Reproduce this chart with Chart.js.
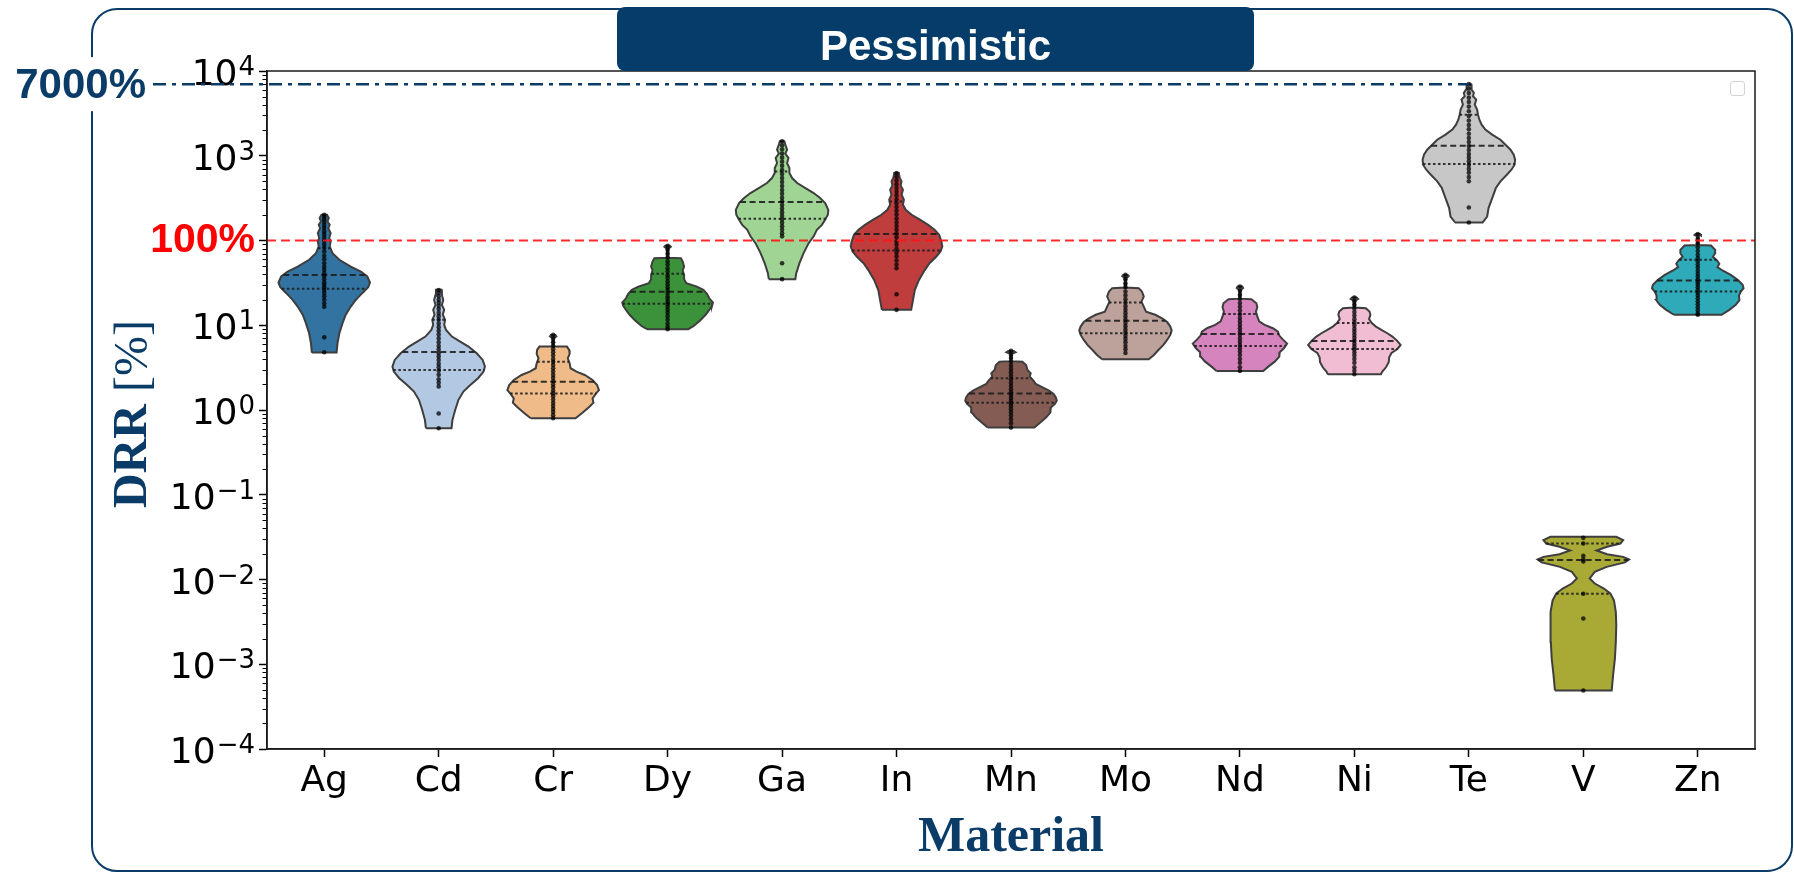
<!DOCTYPE html>
<html>
<head>
<meta charset="utf-8">
<title>Pessimistic DRR by material</title>
<script src="https://cdn.jsdelivr.net/npm/chart.js"></script>
<style>
  html, body { margin: 0; padding: 0; background: #ffffff; }
  #wrap { position: relative; width: 1794px; height: 874px; overflow: hidden; background: #ffffff; }
  #frame {
    position: absolute; left: 91px; top: 8px; width: 1702px; height: 864px;
    box-sizing: border-box; border: 2.5px solid #0b3c68; border-radius: 26px; z-index: 1;
  }
  #banner {
    position: absolute; left: 617px; top: 7px; width: 637px; height: 64px;
    background: #053c6a; border-radius: 8px; z-index: 3;
    color: #ffffff; font: bold 42px "Liberation Sans", Arial, sans-serif;
    text-align: center; line-height: 78px; overflow: visible;
  }
  #legendBox {
    position: absolute; left: 1730px; top: 81px; width: 15px; height: 15px;
    box-sizing: border-box; border: 1.5px solid #d4d4d4; border-radius: 3px; z-index: 3;
  }
  #chart { position: absolute; left: 0; top: 0; z-index: 2; }
</style>
</head>
<body>
<div id="wrap">
  <div id="frame"></div>
  <div id="banner">Pessimistic</div>
  <div id="legendBox"></div>
  <canvas id="chart" width="1794" height="874"></canvas>
</div>
<script>
// ---- categories and colours ----
const materials = ['Ag', 'Cd', 'Cr', 'Dy', 'Ga', 'In', 'Mn', 'Mo', 'Nd', 'Ni', 'Te', 'V', 'Zn'];
const fillColors = [
  'rgb(50,115,161)', 'rgb(179,200,227)', 'rgb(238,187,137)', 'rgb(59,146,59)',
  'rgb(159,212,148)', 'rgb(192,61,62)', 'rgb(132,92,83)', 'rgb(189,161,155)',
  'rgb(213,132,189)', 'rgb(240,189,211)', 'rgb(199,199,199)', 'rgb(169,170,54)',
  'rgb(46,170,184)'
];

// ---- violin profiles: DRR levels (%) from bottom to top, and kernel density
//      at each level relative to the widest violin ----
const agLevels  = [4.76, 6.13, 8.05, 10.6, 13.3, 16.6, 19.9, 23.9, 28.1, 31.9, 37.6, 43.1, 49.3, 59.2, 70.9, 85, 97.4, 107, 122, 140, 153, 168, 184, 201];
const agDensity = [0.27, 0.29, 0.33, 0.40, 0.47, 0.58, 0.69, 0.83, 0.96, 1.00, 0.94, 0.80, 0.58, 0.33, 0.18, 0.12, 0.14, 0.11, 0.14, 0.09, 0.12, 0.07, 0.10, 0.06];

const cdLevels  = [0.61, 0.76, 1.00, 1.31, 1.65, 1.97, 2.37, 2.84, 3.25, 3.90, 4.67, 5.60, 6.42, 7.35, 8.81, 10.1, 11.6, 13.3, 15.2, 17.4, 19.9, 22.8, 26.2];
const cdDensity = [0.28, 0.30, 0.36, 0.43, 0.54, 0.69, 0.86, 0.98, 1.01, 0.96, 0.83, 0.65, 0.47, 0.29, 0.16, 0.12, 0.14, 0.09, 0.12, 0.07, 0.10, 0.07, 0.06];

const crLevels  = [0.80, 0.93, 1.08, 1.22, 1.37, 1.55, 1.72, 1.97, 2.26, 2.59, 2.84, 3.11, 3.56, 4.08, 4.59, 5.11, 5.60, 5.66, 7.1, 7.4, 7.69];
const crDensity = [0.49, 0.64, 0.78, 0.88, 0.86, 0.93, 1.00, 0.96, 0.86, 0.69, 0.51, 0.38, 0.36, 0.32, 0.36, 0.35, 0.30, 0.015, 0.015, 0.07, 0.05];

const dyLevels  = [8.98, 9.8, 11.4, 13.3, 15.2, 16.9, 18.5, 20.8, 23.5, 26.2, 28.6, 31.4, 35.0, 39.3, 44.3, 49.3, 56.5, 61.9, 62.6, 80, 84, 86.6];
const dyDensity = [0.45, 0.57, 0.71, 0.83, 0.91, 0.97, 0.99, 0.91, 0.86, 0.78, 0.64, 0.41, 0.36, 0.36, 0.33, 0.36, 0.33, 0.29, 0.015, 0.015, 0.07, 0.05];

const gaLevels  = [35.0, 41.2, 54.0, 70.9, 93, 112, 134, 153, 176, 201, 230, 276, 317, 363, 416, 476, 546, 625, 716, 820, 940, 1057, 1179, 1351, 1479];
const gaDensity = [0.29, 0.31, 0.38, 0.47, 0.58, 0.69, 0.76, 0.87, 0.94, 1.00, 1.01, 0.94, 0.83, 0.69, 0.51, 0.33, 0.22, 0.16, 0.16, 0.11, 0.14, 0.07, 0.11, 0.07, 0.05];

const inLevels  = [15.2, 19.9, 26.2, 34.3, 45.1, 54.0, 64.8, 74.2, 85.0, 97.4, 117, 134, 153, 176, 201, 230, 264, 303, 347, 397, 447, 498, 546, 625];
const inDensity = [0.32, 0.36, 0.40, 0.49, 0.62, 0.72, 0.87, 0.96, 1.00, 0.98, 0.93, 0.83, 0.69, 0.51, 0.33, 0.20, 0.14, 0.16, 0.11, 0.14, 0.09, 0.11, 0.07, 0.05];

const mnLevels  = [0.62, 0.71, 0.82, 0.94, 1.07, 1.18, 1.29, 1.41, 1.55, 1.69, 1.85, 2.03, 2.22, 2.48, 2.71, 2.97, 3.40, 3.72, 3.77, 4.6, 4.8, 4.98];
const mnDensity = [0.51, 0.64, 0.77, 0.86, 0.87, 0.96, 1.00, 0.98, 0.93, 0.83, 0.69, 0.54, 0.49, 0.41, 0.43, 0.36, 0.33, 0.25, 0.015, 0.015, 0.10, 0.06];

const moLevels  = [3.97, 4.46, 5.11, 5.86, 6.71, 7.69, 8.65, 9.65, 10.9, 12.1, 13.3, 14.5, 16.6, 19.0, 21.8, 25.0, 27.4, 27.8, 36, 38, 39.3];
const moDensity = [0.51, 0.62, 0.72, 0.83, 0.91, 0.98, 1.01, 0.98, 0.91, 0.80, 0.65, 0.45, 0.40, 0.35, 0.40, 0.36, 0.29, 0.015, 0.015, 0.07, 0.05];

const ndLevels  = [2.89, 3.25, 3.72, 4.27, 4.80, 5.35, 6.08, 6.77, 7.55, 8.42, 9.22, 10.1, 11.1, 12.7, 14.5, 16.3, 18.2, 20.3, 20.6, 26, 27.5, 28.6];
const ndDensity = [0.51, 0.62, 0.76, 0.86, 0.87, 0.96, 1.03, 0.94, 0.86, 0.83, 0.72, 0.54, 0.42, 0.38, 0.35, 0.38, 0.36, 0.25, 0.015, 0.015, 0.07, 0.05];

const niLevels  = [2.64, 2.84, 3.19, 3.66, 4.19, 4.71, 5.25, 5.86, 6.59, 7.35, 8.05, 8.81, 9.65, 10.6, 11.8, 13.3, 14.5, 15.9, 16.2, 19.5, 20.4, 21.2];
const niDensity = [0.58, 0.61, 0.69, 0.75, 0.76, 0.81, 0.94, 1.01, 0.93, 0.83, 0.72, 0.59, 0.47, 0.38, 0.32, 0.35, 0.33, 0.25, 0.015, 0.015, 0.08, 0.05];

const teLevels  = [163, 192, 241, 317, 416, 498, 597, 684, 784, 898, 1029, 1179, 1351, 1547, 1774, 2032, 2327, 2667, 3055, 3499, 4010, 4594, 5029, 5508, 6030, 7000];
const teDensity = [0.30, 0.40, 0.43, 0.51, 0.59, 0.69, 0.83, 0.93, 1.00, 1.01, 0.98, 0.91, 0.80, 0.69, 0.51, 0.36, 0.28, 0.23, 0.20, 0.18, 0.13, 0.16, 0.09, 0.11, 0.06, 0.05];

const vLevels   = [0.00049, 0.00074, 0.00116, 0.00183, 0.00288, 0.00415, 0.00569, 0.00683, 0.00782, 0.00896, 0.0103, 0.0123, 0.0141, 0.0159, 0.0172, 0.0185, 0.0199, 0.0220, 0.0243, 0.0266, 0.0291, 0.0319];
const vDensity  = [0.62, 0.65, 0.69, 0.71, 0.72, 0.71, 0.67, 0.59, 0.45, 0.25, 0.14, 0.25, 0.51, 0.91, 1.00, 0.87, 0.52, 0.29, 0.52, 0.81, 0.87, 0.72];

const znLevels  = [13.3, 15.2, 17.4, 19.8, 22.4, 25.0, 27.4, 30.0, 34.3, 39.3, 44.3, 48.5, 53.1, 58.1, 64.2, 70.9, 77.7, 87.4, 88.6, 112, 116, 119];
const znDensity = [0.52, 0.69, 0.83, 0.91, 0.90, 0.94, 1.00, 0.98, 0.87, 0.72, 0.54, 0.43, 0.47, 0.42, 0.33, 0.38, 0.38, 0.29, 0.015, 0.015, 0.07, 0.05];

// ---- individual scenario results (DRR %) ----
const agPoints = [201, 190, 178, 165, 152, 140, 128, 118, 108, 99, 90, 82, 74, 66, 60, 54, 49, 45, 41, 38, 35, 32, 30, 28, 26, 24, 22, 20, 18, 16.5, 7.2, 4.8];
const cdPoints = [26, 24, 22, 20, 18.5, 17, 15.5, 14, 12.8, 11.6, 10.5, 9.5, 8.6, 7.8, 7, 6.3, 5.7, 5.2, 4.7, 4.3, 3.9, 3.5, 3.2, 2.9, 2.6, 2.3, 2.1, 1.9, 0.91, 0.61];
const crPoints = [7.7, 7.0, 6.3, 5.7, 5.2, 4.8, 4.4, 4.0, 3.7, 3.4, 3.1, 2.85, 2.6, 2.4, 2.2, 2.0, 1.85, 1.7, 1.57, 1.45, 1.33, 1.22, 1.12, 1.03, 0.95, 0.87, 0.8];
const dyPoints = [86.6, 78, 70, 63, 57, 52, 47, 43, 39, 36, 33, 30.5, 28, 26, 24, 22, 20.5, 19, 17.8, 16.5, 15.2, 14, 12.8, 11.6, 10.5, 9.6, 9.0];
const gaPoints = [1479, 1330, 1190, 1060, 950, 850, 760, 680, 610, 545, 490, 440, 395, 355, 320, 290, 262, 238, 216, 196, 178, 162, 147, 134, 122, 112, 54, 35];
const inPoints = [625, 565, 510, 460, 415, 375, 338, 305, 275, 248, 224, 202, 182, 164, 148, 134, 121, 109, 98, 89, 80, 72, 65, 58, 52, 47, 23.2, 15.2];
const mnPoints = [4.98, 4.5, 4.1, 3.7, 3.35, 3.05, 2.78, 2.53, 2.3, 2.1, 1.92, 1.76, 1.62, 1.5, 1.39, 1.29, 1.2, 1.11, 1.02, 0.94, 0.86, 0.78, 0.7, 0.62];
const moPoints = [39.3, 35, 31, 28, 25, 22.5, 20.3, 18.4, 16.7, 15.2, 13.9, 12.7, 11.6, 10.6, 9.7, 8.9, 8.2, 7.5, 6.9, 6.3, 5.7, 5.2, 4.7];
const ndPoints = [28.6, 25.5, 22.8, 20.4, 18.3, 16.5, 14.9, 13.5, 12.2, 11.1, 10.1, 9.2, 8.4, 7.7, 7.0, 6.4, 5.85, 5.35, 4.9, 4.45, 4.0, 3.6, 3.2, 2.89];
const niPoints = [21.2, 19.2, 17.4, 15.8, 14.3, 13.0, 11.8, 10.8, 9.9, 9.1, 8.4, 7.7, 7.1, 6.55, 6.05, 5.6, 5.2, 4.8, 4.4, 4.0, 3.6, 3.2, 2.9, 2.64];
const tePoints = [7000, 6200, 5500, 4850, 4300, 3800, 3350, 2950, 2600, 2300, 2050, 1820, 1620, 1450, 1300, 1170, 1050, 950, 860, 780, 700, 630, 560, 500, 245, 163];
const vPoints  = [0.031, 0.0266, 0.019, 0.0172, 0.0163, 0.0068, 0.00346, 0.00049];
const znPoints = [119, 105, 93, 83, 75, 68, 62, 57, 52, 48, 44, 40.5, 37.5, 34.7, 32.2, 30, 28, 26, 24.2, 22.5, 20.8, 19.2, 17.7, 16.3, 15, 13.8, 13.3];

// ---- quartiles per material (DRR %) ----
const lowerQuartile = [26.9, 2.97, 1.57, 17.9, 180, 76.2, 1.22, 8.05, 5.70, 5.25, 798, 0.0068, 25.0];
const medianValue   = [39.3, 4.84, 2.16, 24.8, 284, 119, 1.57, 11.3, 7.90, 6.53, 1314, 0.0170, 33.7];
const upperQuartile = [81, 11.6, 3.72, 40.4, 654, 289, 2.37, 18.5, 13.6, 10.6, 3055, 0.0266, 59.2];

// ---- axis ticks and reference levels ----
const yTickValues = [1e-4, 1e-3, 1e-2, 1e-1, 1, 10, 100, 1000, 10000];
const thresholdValue = 100;   // DRR = 100 %
const worstCaseValue = 7000;  // highest DRR reached (Te)
const worstCaseIndex = 10;    // Te

// ---------------------------------------------------------------
const levelSets   = [agLevels, cdLevels, crLevels, dyLevels, gaLevels, inLevels, mnLevels, moLevels, ndLevels, niLevels, teLevels, vLevels, znLevels];
const densitySets = [agDensity, cdDensity, crDensity, dyDensity, gaDensity, inDensity, mnDensity, moDensity, ndDensity, niDensity, teDensity, vDensity, znDensity];
const pointSets   = [agPoints, cdPoints, crPoints, dyPoints, gaPoints, inPoints, mnPoints, moPoints, ndPoints, niPoints, tePoints, vPoints, znPoints];

const HALF_WIDTH = 0.4;   // half width of a density of 1, in category units
const NAVY = '#0b3c68';
const TICK_FONT = '"DejaVu Sans", sans-serif';

// closed outline of one violin: up the left side, down the right side
function violinOutline(i) {
  const lv = levelSets[i], d = densitySets[i];
  const pts = [];
  for (let k = 0; k < lv.length; k++) pts.push({ x: i - d[k] * HALF_WIDTH, y: lv[k] });
  for (let k = lv.length - 1; k >= 0; k--) pts.push({ x: i + d[k] * HALF_WIDTH, y: lv[k] });
  pts.push({ x: pts[0].x, y: pts[0].y });
  return pts;
}

// density of violin i at value v (profile is linear in log space)
function densityAt(i, v) {
  const lv = levelSets[i], d = densitySets[i];
  const t = Math.log10(v);
  for (let k = 0; k < lv.length - 1; k++) {
    const a = Math.log10(lv[k]), b = Math.log10(lv[k + 1]);
    if (t >= a && t <= b) return d[k] + (d[k + 1] - d[k]) * (t - a) / (b - a);
  }
  return 0;
}

function quartileLine(i, v, dash, label) {
  const w = densityAt(i, v) * HALF_WIDTH;
  return {
    type: 'line',
    label: label + ' ' + materials[i],
    data: [{ x: i - w, y: v }, { x: i + w, y: v }],
    borderColor: 'rgba(30,30,30,0.9)',
    borderWidth: 2,
    borderDash: dash,
    pointRadius: 0,
    fill: false,
    order: 2
  };
}

const datasets = [];

// scenario points on top
const allPoints = [];
pointSets.forEach((arr, i) => arr.forEach(v => allPoints.push({ x: i, y: v })));
datasets.push({
  type: 'scatter',
  label: 'scenarios',
  data: allPoints,
  pointRadius: 2.3,
  pointBackgroundColor: 'rgba(0,0,0,0.75)',
  pointBorderWidth: 0,
  order: 1
});

// quartile lines
materials.forEach((m, i) => {
  datasets.push(quartileLine(i, lowerQuartile[i], [2.5, 2.5], 'Q1'));
  datasets.push(quartileLine(i, medianValue[i], [6, 3.5], 'median'));
  datasets.push(quartileLine(i, upperQuartile[i], [2.5, 2.5], 'Q3'));
});

// violin bodies
materials.forEach((m, i) => {
  datasets.push({
    type: 'line',
    label: m,
    data: violinOutline(i),
    backgroundColor: fillColors[i],
    borderColor: 'rgb(62,62,62)',
    borderWidth: 2,
    fill: 'shape',
    tension: 0,
    pointRadius: 0,
    order: 3
  });
});

// minor log ticks, power-of-ten labels, frame, reference lines and axis titles
const decorations = {
  id: 'decorations',
  afterDatasetsDraw(chart) {
    const { ctx, chartArea: a, scales } = chart;
    const y = scales.y.getPixelForValue(thresholdValue);
    ctx.save();
    ctx.strokeStyle = 'rgba(255,20,20,0.9)';
    ctx.lineWidth = 2;
    ctx.setLineDash([9, 5]);
    ctx.beginPath();
    ctx.moveTo(a.left, y);
    ctx.lineTo(a.right, y);
    ctx.stroke();
    ctx.restore();
  },
  afterDraw(chart) {
    const { ctx, chartArea: a, scales } = chart;
    const ys = scales.y, xs = scales.x;
    ctx.save();

    // minor ticks on the log axis
    ctx.strokeStyle = '#000';
    ctx.lineWidth = 1;
    for (let e = -4; e < 4; e++) {
      for (let k = 2; k < 10; k++) {
        const py = Math.round(ys.getPixelForValue(k * Math.pow(10, e))) + 0.5;
        ctx.beginPath();
        ctx.moveTo(a.left - 4.5, py);
        ctx.lineTo(a.left, py);
        ctx.stroke();
      }
    }

    // power-of-ten labels with a raised exponent
    ctx.fillStyle = '#000';
    ctx.textBaseline = 'alphabetic';
    yTickValues.forEach(v => {
      if (v === thresholdValue) return;
      const py = ys.getPixelForValue(v);
      const exp = Math.round(Math.log10(v));
      const expText = exp < 0 ? '\u2212' + (-exp) : String(exp);
      const right = a.left - 12;
      ctx.font = '26px ' + TICK_FONT;
      const we = ctx.measureText(expText).width;
      ctx.textAlign = 'right';
      ctx.fillText(expText, right, py + 4);
      ctx.font = '36px ' + TICK_FONT;
      ctx.fillText('10', right - we - 1, py + 14);
    });

    // frame
    ctx.lineWidth = 1.5;
    ctx.strokeStyle = '#1a1a1a';
    ctx.strokeRect(a.left, a.top, a.right - a.left, a.bottom - a.top);

    // worst-case level
    const yw = ys.getPixelForValue(worstCaseValue);
    ctx.fillStyle = '#ffffff';
    ctx.fillRect(8, yw - 27, 140, 54);
    ctx.strokeStyle = NAVY;
    ctx.lineWidth = 2.5;
    ctx.setLineDash([13, 6, 4, 6]);
    ctx.beginPath();
    ctx.moveTo(153, yw);
    ctx.lineTo(xs.getPixelForValue(worstCaseIndex), yw);
    ctx.stroke();
    ctx.setLineDash([]);
    ctx.fillStyle = NAVY;
    ctx.font = 'bold 42px "Liberation Sans", Arial, sans-serif';
    ctx.textAlign = 'right';
    ctx.textBaseline = 'middle';
    ctx.fillText(worstCaseValue + '%', 146, yw + 2);

    // y title: "DRR [%]"
    const cy = (a.top + a.bottom) / 2 + 4;
    ctx.translate(134, cy);
    ctx.rotate(-Math.PI / 2);
    ctx.textAlign = 'left';
    ctx.textBaseline = 'middle';
    const boldFont = 'bold 48px "Liberation Serif", "Times New Roman", serif';
    const normFont = '48px "Liberation Serif", "Times New Roman", serif';
    ctx.font = boldFont;
    const w1 = ctx.measureText('DRR').width;
    ctx.font = normFont;
    const w2 = ctx.measureText(' [%]').width;
    const x0 = -(w1 + w2) / 2;
    ctx.font = boldFont;
    ctx.fillText('DRR', x0, 0);
    ctx.font = normFont;
    ctx.fillText(' [%]', x0 + w1, 0);
    ctx.setTransform(1, 0, 0, 1, 0, 0);

    // x title
    ctx.font = 'bold 50px "Liberation Serif", "Times New Roman", serif';
    ctx.textAlign = 'center';
    ctx.textBaseline = 'alphabetic';
    ctx.fillText('Material', (a.left + a.right) / 2, 851);
    ctx.restore();
  }
};

new Chart(document.getElementById('chart'), {
  type: 'line',
  data: { datasets },
  options: {
    responsive: false,
    animation: false,
    events: [],
    layout: { padding: { left: 0, right: 39, top: 71, bottom: 0 } },
    plugins: {
      legend: { display: false },
      tooltip: { enabled: false },
      title: { display: false }
    },
    scales: {
      x: {
        type: 'linear',
        min: -0.5,
        max: 12.5,
        afterBuildTicks: s => { s.ticks = materials.map((m, i) => ({ value: i })); },
        afterFit: s => { s.height = 125; },
        ticks: {
          autoSkip: false,
          maxRotation: 0,
          padding: 3,
          color: '#000',
          font: { family: TICK_FONT, size: 36 },
          callback: v => materials[v]
        },
        grid: { drawOnChartArea: false, drawTicks: true, tickLength: 8, tickWidth: 1.5, tickColor: '#000' },
        border: { display: true, color: '#1a1a1a', width: 1.5 }
      },
      y: {
        type: 'logarithmic',
        min: 1e-4,
        max: 1e4,
        afterBuildTicks: s => { s.ticks = yTickValues.map(v => ({ value: v })); },
        afterFit: s => { s.width = 267; },
        ticks: {
          autoSkip: false,
          padding: 4,
          color: '#ff0000',
          font: { family: '"Liberation Sans", Arial, sans-serif', size: 41, weight: 'bold' },
          // the threshold is written as a percentage; powers of ten are drawn with raised exponents
          callback: v => v === thresholdValue ? thresholdValue + '%' : ''
        },
        grid: { drawOnChartArea: false, drawTicks: true, tickLength: 8, tickWidth: 1.5, tickColor: '#000' },
        border: { display: true, color: '#1a1a1a', width: 1.5 }
      }
    }
  },
  plugins: [decorations]
});
</script>
</body>
</html>
